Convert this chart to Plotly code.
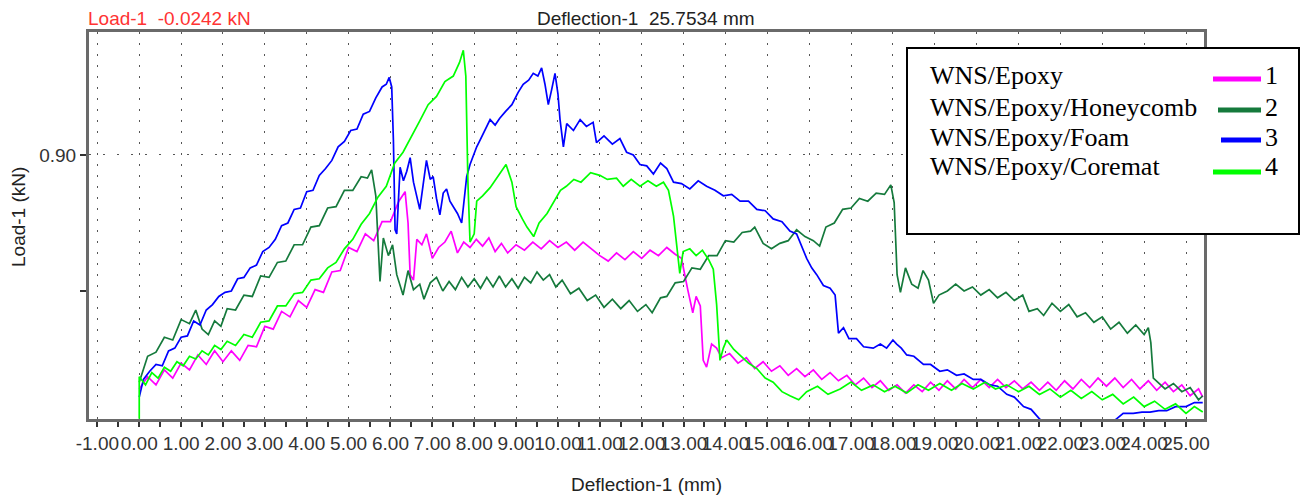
import plotly.graph_objects as go

# ---------------- data ----------------
series_names = ["WNS/Epoxy", "WNS/Epoxy/Honeycomb", "WNS/Epoxy/Foam", "WNS/Epoxy/Coremat"]
series_numbers = ["1", "2", "3", "4"]
series_colors = ["#ff00ff", "#157a3c", "#0000ff", "#00ff00"]

epoxy_x = [0.00,0.20,0.40,0.60,0.80,1.00,1.20,1.40,1.60,1.80,2.00,2.20,2.40,2.60,2.80,3.00,3.20,3.40,3.60,3.80,
           4.00,4.20,4.40,4.60,4.80,5.00,5.20,5.40,5.60,5.80,6.00,6.20,
           6.35,6.42,6.47,6.55,6.63,6.75,6.86,
           7.00,7.15,7.30,7.45,7.60,7.75,7.90,8.05,8.20,8.35,8.50,8.65,8.80,
           9.00,9.20,9.40,9.60,9.80,10.00,10.20,10.40,10.60,10.80,11.00,11.20,11.40,11.60,11.80,12.00,12.20,12.40,12.60,12.80,
           12.95,13.10,13.22,13.30,13.40,13.47,13.55,13.67,13.79,13.91,
           14.10,14.30,14.50,14.70,14.90,15.10,15.30,15.50,15.70,15.90,16.10,16.30,16.50,16.70,16.90,17.10,17.30,17.50,17.70,17.90,
           18.10,18.30,18.50,18.70,18.90,19.10,19.30,19.50,19.70,19.90,20.10,20.30,20.50,20.70,20.90,21.10,21.30,21.50,21.70,21.90,
           22.10,22.30,22.50,22.70,22.90,23.10,23.30,23.50,23.70,23.90,24.10,24.30,24.50,24.70,24.90,25.10,25.30,25.40]
epoxy_y = [0.728,0.737,0.731,0.742,0.736,0.747,0.742,0.753,0.746,0.756,0.748,0.756,0.749,0.760,0.759,0.774,0.772,0.785,0.781,0.793,
           0.788,0.801,0.799,0.814,0.815,0.832,0.829,0.842,0.837,0.851,0.851,0.866,
           0.873,0.850,0.812,0.808,0.838,0.834,0.842,
           0.824,0.832,0.836,0.844,0.828,0.836,0.832,0.838,0.833,0.839,0.829,0.835,0.828,
           0.834,0.830,0.836,0.831,0.837,0.832,0.836,0.830,0.836,0.831,0.826,0.822,0.828,0.823,0.829,0.824,0.830,0.826,0.832,0.827,
           0.824,0.801,0.784,0.796,0.789,0.749,0.744,0.761,0.758,0.751,
           0.754,0.747,0.751,0.743,0.748,0.741,0.745,0.738,0.743,0.737,0.742,0.735,0.740,0.734,0.738,0.731,0.736,0.729,0.734,0.727,
           0.731,0.725,0.731,0.726,0.733,0.727,0.734,0.728,0.735,0.729,0.735,0.729,0.735,0.729,0.734,0.728,0.733,0.727,0.733,0.727,
           0.734,0.728,0.735,0.729,0.736,0.730,0.736,0.729,0.735,0.728,0.734,0.727,0.733,0.726,0.731,0.723,0.728,0.722]

honey_x = [0.00,0.20,0.40,0.60,0.80,1.00,1.20,1.35,1.50,1.65,1.80,1.95,
           2.10,2.30,2.50,2.70,2.90,3.10,3.30,3.50,3.70,3.90,4.10,4.30,4.50,4.70,4.90,5.10,5.30,
           5.45,5.55,5.65,5.75,5.83,5.95,6.05,6.15,6.30,6.42,6.55,6.70,6.80,6.95,
           7.10,7.25,7.40,7.55,7.70,7.85,8.00,8.15,8.30,8.45,8.60,8.75,8.90,9.05,9.20,9.35,9.50,9.65,9.80,9.95,
           10.10,10.30,10.50,10.70,10.90,11.10,11.30,11.50,11.70,11.90,12.10,12.25,12.45,
           12.60,12.80,13.00,13.20,13.40,13.60,13.80,14.00,14.20,14.40,14.60,14.70,
           14.90,15.10,15.30,15.50,15.70,15.90,16.10,16.25,16.40,16.60,16.80,17.00,17.20,17.40,17.60,17.80,
           17.95,18.03,18.10,18.18,18.30,18.45,18.60,18.72,18.85,18.97,
           19.10,19.30,19.50,19.70,19.90,20.10,20.30,20.50,20.70,20.90,21.10,21.25,21.45,21.60,
           21.80,22.00,22.20,22.40,22.60,22.80,23.00,23.20,23.40,23.60,23.80,24.00,
           24.10,24.16,24.22,24.35,24.50,24.70,24.90,25.10,25.30,25.40]
honey_y = [0.733,0.752,0.755,0.766,0.764,0.779,0.776,0.786,0.772,0.768,0.778,0.774,
           0.787,0.786,0.797,0.796,0.811,0.810,0.821,0.822,0.834,0.834,0.847,0.848,0.861,0.862,0.874,0.874,0.884,
           0.883,0.889,0.870,0.807,0.839,0.826,0.834,0.812,0.797,0.815,0.801,0.805,0.794,0.806,
           0.810,0.800,0.807,0.801,0.810,0.803,0.809,0.802,0.810,0.803,0.811,0.803,0.809,0.802,0.810,0.806,0.814,0.808,0.812,0.803,
           0.808,0.798,0.802,0.793,0.797,0.788,0.794,0.787,0.793,0.785,0.790,0.784,0.795,
           0.796,0.806,0.807,0.817,0.816,0.826,0.826,0.837,0.836,0.843,0.844,0.847,
           0.835,0.831,0.835,0.837,0.845,0.840,0.837,0.833,0.847,0.850,0.860,0.861,0.868,0.866,0.872,0.871,
           0.878,0.865,0.812,0.799,0.817,0.805,0.802,0.815,0.808,0.791,
           0.797,0.800,0.805,0.800,0.803,0.797,0.801,0.795,0.799,0.793,0.797,0.785,0.787,0.782,
           0.791,0.785,0.790,0.781,0.784,0.777,0.781,0.772,0.777,0.769,0.775,0.768,
           0.773,0.762,0.736,0.732,0.728,0.732,0.726,0.729,0.720,0.723]

foam_x = [0.00,0.10,0.25,0.40,0.55,0.70,0.85,1.00,1.15,1.30,1.45,1.60,1.75,1.90,2.05,2.20,2.35,2.50,2.65,2.80,
          2.95,3.10,3.25,3.40,3.55,3.70,3.85,4.00,4.15,4.30,4.45,4.60,4.75,4.90,5.05,5.20,5.35,5.50,5.65,5.80,
          5.90,5.97,6.03,6.07,6.11,6.15,6.23,6.31,6.39,6.47,6.55,6.70,6.78,6.86,6.95,7.02,7.10,7.18,7.26,7.34,
          7.42,7.50,7.60,7.70,7.76,7.82,7.90,7.98,8.06,8.14,8.26,8.38,8.50,8.61,8.75,8.90,9.05,9.17,9.30,9.41,
          9.52,9.61,9.69,9.77,9.85,9.93,10.00,10.05,10.13,10.21,10.37,10.53,10.68,10.84,10.92,11.10,11.30,11.48,11.64,11.80,
          11.96,12.12,12.28,12.45,12.60,12.76,12.95,13.15,13.35,13.55,13.75,13.95,14.15,14.35,14.55,14.75,14.95,15.14,15.35,15.54,
          15.70,15.80,15.94,16.06,16.18,16.34,16.50,16.62,16.70,16.82,16.95,17.13,17.30,17.53,17.70,17.85,18.00,18.09,18.20,18.33,
          18.50,18.73,18.90,19.12,19.30,19.52,19.70,19.92,20.10,20.32,20.50,20.72,20.90,21.12,21.30,21.50,21.70,22.00,22.50,23.00,
          23.34,23.50,23.74,23.95,24.14,24.35,24.54,24.75,25.00,25.20,25.40]
foam_y = [0.722,0.735,0.741,0.746,0.745,0.756,0.758,0.766,0.767,0.778,0.775,0.786,0.790,0.796,0.799,0.800,0.809,0.810,0.817,0.819,
          0.829,0.832,0.838,0.848,0.850,0.860,0.861,0.873,0.874,0.885,0.890,0.896,0.906,0.910,0.918,0.919,0.930,0.932,0.942,0.950,
          0.952,0.957,0.950,0.911,0.845,0.842,0.891,0.881,0.888,0.898,0.880,0.860,0.878,0.896,0.882,0.884,0.868,0.856,0.872,0.875,
          0.866,0.862,0.857,0.850,0.866,0.884,0.893,0.900,0.906,0.911,0.918,0.926,0.922,0.927,0.932,0.937,0.946,0.952,0.955,0.960,
          0.958,0.964,0.952,0.937,0.948,0.960,0.945,0.926,0.906,0.923,0.918,0.926,0.921,0.924,0.909,0.914,0.908,0.912,0.902,0.900,
          0.893,0.892,0.886,0.894,0.890,0.880,0.879,0.875,0.881,0.877,0.874,0.870,0.871,0.866,0.866,0.860,0.859,0.853,0.851,0.844,
          0.842,0.835,0.824,0.817,0.812,0.804,0.802,0.797,0.769,0.773,0.765,0.765,0.759,0.758,0.761,0.758,0.764,0.761,0.758,0.753,
          0.752,0.746,0.746,0.741,0.742,0.738,0.739,0.735,0.735,0.731,0.730,0.724,0.722,0.715,0.713,0.706,0.702,0.698,0.696,0.699,
          0.706,0.710,0.710,0.711,0.711,0.712,0.712,0.715,0.715,0.718,0.718]

coremat_x = [0.00,0.00,0.15,0.30,0.45,0.60,0.75,0.90,1.05,1.20,1.35,1.50,1.65,1.80,1.95,2.10,2.30,2.50,2.70,2.90,
             3.10,3.30,3.50,3.70,3.90,4.10,4.30,4.50,4.70,4.90,5.10,5.30,5.50,5.70,5.90,6.10,6.30,6.50,6.70,6.90,
             7.10,7.30,7.50,7.65,7.74,7.80,7.85,7.90,8.00,8.06,8.20,8.38,8.55,8.76,8.90,9.00,9.15,9.26,9.42,9.55,
             9.74,9.90,10.06,10.20,10.38,10.55,10.78,11.00,11.18,11.40,11.56,11.75,11.96,12.15,12.35,12.52,12.64,12.76,12.83,12.91,
             12.99,13.15,13.30,13.45,13.60,13.71,13.79,13.87,13.95,14.03,14.20,14.35,14.55,14.75,14.95,15.14,15.35,15.54,15.75,15.94,
             16.20,16.45,16.74,17.00,17.25,17.53,17.80,18.05,18.33,18.60,18.85,19.12,19.40,19.65,19.92,20.20,20.45,20.72,21.00,21.25,
             21.50,21.75,22.00,22.25,22.50,22.75,23.00,23.25,23.50,23.75,24.00,24.25,24.50,24.75,25.00,25.20,25.40]
coremat_y = [0.706,0.737,0.731,0.740,0.736,0.744,0.741,0.748,0.745,0.752,0.750,0.756,0.753,0.760,0.757,0.763,0.760,0.768,0.766,0.777,
             0.778,0.789,0.789,0.798,0.799,0.808,0.809,0.817,0.821,0.831,0.838,0.849,0.857,0.869,0.877,0.894,0.902,0.913,0.925,0.937,
             0.943,0.954,0.958,0.968,0.977,0.958,0.880,0.836,0.842,0.866,0.870,0.876,0.884,0.893,0.880,0.862,0.853,0.847,0.840,0.850,
             0.857,0.866,0.874,0.877,0.882,0.880,0.887,0.885,0.882,0.883,0.877,0.882,0.877,0.881,0.877,0.880,0.874,0.855,0.833,0.813,
             0.829,0.831,0.826,0.830,0.823,0.816,0.790,0.749,0.758,0.764,0.757,0.753,0.747,0.743,0.736,0.733,0.726,0.723,0.720,0.726,
             0.730,0.724,0.728,0.733,0.727,0.731,0.726,0.730,0.725,0.731,0.727,0.732,0.727,0.732,0.728,0.733,0.728,0.731,0.726,0.730,
             0.724,0.728,0.722,0.727,0.721,0.726,0.720,0.724,0.717,0.722,0.715,0.719,0.713,0.717,0.710,0.715,0.711]

x_tick_values = list(range(-1, 26))
x_tick_labels = ["%.2f" % v for v in x_tick_values]
y_tick_values = [0.90]
y_tick_labels = ["0.90"]
y_minor_ticks = [0.80]

header_left = "Load-1\u00a0\u00a0-0.0242 kN"
header_mid = "Deflection-1\u00a0\u00a025.7534 mm"
x_title = "Deflection-1 (mm)"
y_title = "Load-1 (kN)"

series = [(epoxy_x, epoxy_y), (honey_x, honey_y), (foam_x, foam_y), (coremat_x, coremat_y)]
for xs, ys in series:
    assert len(xs) == len(ys), (len(xs), len(ys))

# ---------------- figure ----------------
SANS = "Liberation Sans, Arial, sans-serif"
SERIF = "Liberation Serif, Times New Roman, serif"
X_RANGE = [-1.20, 25.43]
Y_RANGE = [0.7059, 0.9904]

fig = go.Figure()
for (xs, ys), name, col in zip(series, series_names, series_colors):
    fig.add_trace(go.Scatter(x=xs, y=ys, mode="lines", name=name,
                             line=dict(color=col, width=1.7), showlegend=False,
                             hoverinfo="skip"))

fig.update_layout(
    width=1303, height=497,
    margin=dict(l=89, r=99, t=32, b=78, autoexpand=False),
    paper_bgcolor="white", plot_bgcolor="white",
    font=dict(family=SANS, size=19, color="#333333"),
    showlegend=False,
    xaxis=dict(range=X_RANGE, tickmode="array", tickvals=x_tick_values, ticktext=x_tick_labels,
               tickangle=0,
               ticks="outside", ticklen=5, tickwidth=1.5, tickcolor="#333",
               tickfont=dict(size=19, color="#333"),
               minor=dict(tickmode="linear", tick0=0.5, dtick=1, ticks="outside", ticklen=5,
                          tickwidth=1.5, tickcolor="#333", showgrid=False),
               showgrid=True, gridcolor="#555", gridwidth=1, griddash="2px,9px",
               showline=True, linecolor="#6a6a6a", linewidth=3, mirror=True,
               zeroline=False, automargin=False),
    xaxis2=dict(range=X_RANGE, overlaying="x", anchor="y", side="bottom",
                tickmode="linear", tick0=0, dtick=0.5, ticks="inside", ticklen=4,
                tickwidth=1.5, tickcolor="#333", showticklabels=False,
                showgrid=False, showline=False, zeroline=False, automargin=False),
    yaxis=dict(range=Y_RANGE, tickmode="array", tickvals=y_tick_values, ticktext=y_tick_labels,
               ticks="outside", ticklen=6, tickwidth=1.5, tickcolor="#333",
               tickfont=dict(size=19, color="#333"),
               minor=dict(tickmode="array", tickvals=y_minor_ticks, ticks="outside", ticklen=6,
                          tickwidth=1.5, tickcolor="#333", showgrid=False),
               showgrid=True, gridcolor="#555", gridwidth=1, griddash="2px,12px",
               showline=True, linecolor="#6a6a6a", linewidth=3, mirror=True,
               zeroline=False, automargin=False),
)

PW, PH = 1115.0, 387.0   # plot area size in px
def px(x):
    return (x - 89) / PW
def py(y):
    return (419 - y) / PH

annotations = [
    dict(text=header_left, x=px(86), y=py(18), xanchor="left", yanchor="middle",
         font=dict(family=SANS, size=19, color="#ff3333")),
    dict(text=header_mid, x=px(535), y=py(18), xanchor="left", yanchor="middle",
         font=dict(family=SANS, size=19, color="#222")),
    dict(text=x_title, x=px(646), y=py(484), xanchor="center", yanchor="middle",
         font=dict(family=SANS, size=19, color="#222")),
    dict(text=y_title, x=px(18), y=py(217), xanchor="center", yanchor="middle", textangle=-90,
         font=dict(family=SANS, size=19, color="#222")),
]

shapes = [
    dict(type="rect", xref="paper", yref="paper", x0=px(907), x1=px(1299), y0=py(234), y1=py(48),
         line=dict(color="black", width=2), fillcolor="white", layer="above"),
]

row_text_y = [75, 107, 137, 167]
row_line_y = [79, 110, 140, 172]
row_line_x0 = [1213, 1218, 1221, 1213]
for i in range(4):
    annotations.append(dict(text=series_names[i], x=px(928), y=py(row_text_y[i]),
                            xanchor="left", yanchor="middle",
                            font=dict(family=SERIF, size=26, color="black")))
    annotations.append(dict(text=series_numbers[i], x=px(1263), y=py(row_text_y[i]),
                            xanchor="left", yanchor="middle",
                            font=dict(family=SERIF, size=26, color="black")))
    shapes.append(dict(type="line", xref="paper", yref="paper",
                       x0=px(row_line_x0[i]), x1=px(1261), y0=py(row_line_y[i]), y1=py(row_line_y[i]),
                       line=dict(color=series_colors[i], width=5), layer="above"))

for a in annotations:
    a.update(xref="paper", yref="paper", showarrow=False)

fig.update_layout(annotations=annotations, shapes=shapes)
fig.write_html("out.html", config={"displayModeBar": False},
               post_script="document.body.style.margin='0px';document.body.style.overflow='hidden';")
